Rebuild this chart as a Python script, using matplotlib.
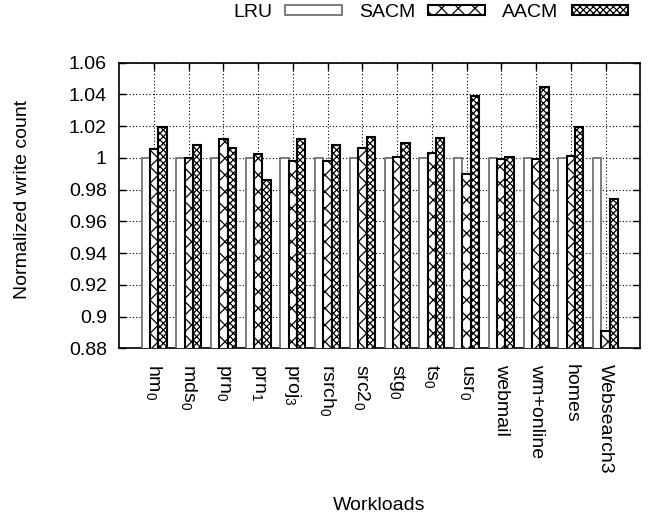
import matplotlib
matplotlib.use("Agg")
import matplotlib.pyplot as plt
import numpy as np

plt.rcParams['font.family'] = ['Liberation Sans', 'DejaVu Sans']
plt.rcParams['hatch.linewidth'] = 0.9

workloads = [r'hm$\mathregular{_0}$', r'mds$\mathregular{_0}$', r'prn$\mathregular{_0}$',
             r'prn$\mathregular{_1}$', r'proj$\mathregular{_3}$', r'rsrch$\mathregular{_0}$',
             r'src2$\mathregular{_0}$', r'stg$\mathregular{_0}$', r'ts$\mathregular{_0}$',
             r'usr$\mathregular{_0}$', 'webmail', 'wm+online', 'homes', 'Websearch3']
lru = [1.0] * 14
sacm = [1.0056, 1.0, 1.0119, 1.0025, 0.9979, 0.998, 1.0063, 1.0005, 1.0033, 0.990,
        0.9994, 0.9994, 1.0013, 0.8913]
aacm = [1.0196, 1.0081, 1.0063, 0.9862, 1.0119, 1.0081, 1.0129, 1.0094, 1.0125, 1.039,
        1.0008, 1.0443, 1.0196, 0.9738]
yticks = [0.88, 0.9, 0.92, 0.94, 0.96, 0.98, 1.0, 1.02, 1.04, 1.06]

fs = 14
fig = plt.figure(figsize=(6.5, 5.17), dpi=100)
ax = fig.add_axes([0.1835, 0.326, 0.8015, 0.553])

x = np.arange(len(workloads))
w = 0.24
ax.bar(x - w, lru, w, color='white', edgecolor='#666666', linewidth=1.2, label='LRU', zorder=3)
ax.bar(x, sacm, w, color='white', edgecolor='black', linewidth=1.5, hatch='xx', label='SACM', zorder=3)
ax.bar(x + w, aacm, w, color='white', edgecolor='black', linewidth=1.5, hatch='xxxxx', label='AACM', zorder=3)

ax.set_xlim(-1, len(workloads))
ax.set_ylim(0.88, 1.06)
ax.set_yticks(yticks)
ax.set_yticklabels(['%g' % v for v in yticks], fontsize=fs)
ax.set_xticks(x)
ax.set_xticklabels(workloads, rotation=270, fontsize=fs, va='top', ha='center')
ax.tick_params(direction='in', top=True, right=True, length=5, width=1)
ax.tick_params(axis='y', pad=9)
ax.tick_params(axis='x', pad=11)
ax.grid(True, linestyle=(0, (1, 2)), color='black', linewidth=0.8, zorder=0)
ax.set_axisbelow(True)
for s in ax.spines.values():
    s.set_linewidth(1.2)

fig.text(0.034, 0.615, 'Normalized write count', fontsize=fs, rotation=90,
         ha='center', va='center')
fig.text(0.584, 0.023, 'Workloads', fontsize=fs, ha='center', va='center')

fig.legend(loc='center right', bbox_to_anchor=(0.966, 0.976), ncol=3, frameon=False,
           markerfirst=False, fontsize=fs, handlelength=2.9, handleheight=0.36,
           columnspacing=0.9, handletextpad=0.67, borderpad=0, borderaxespad=0)

fig.savefig('out.png', dpi=100)
